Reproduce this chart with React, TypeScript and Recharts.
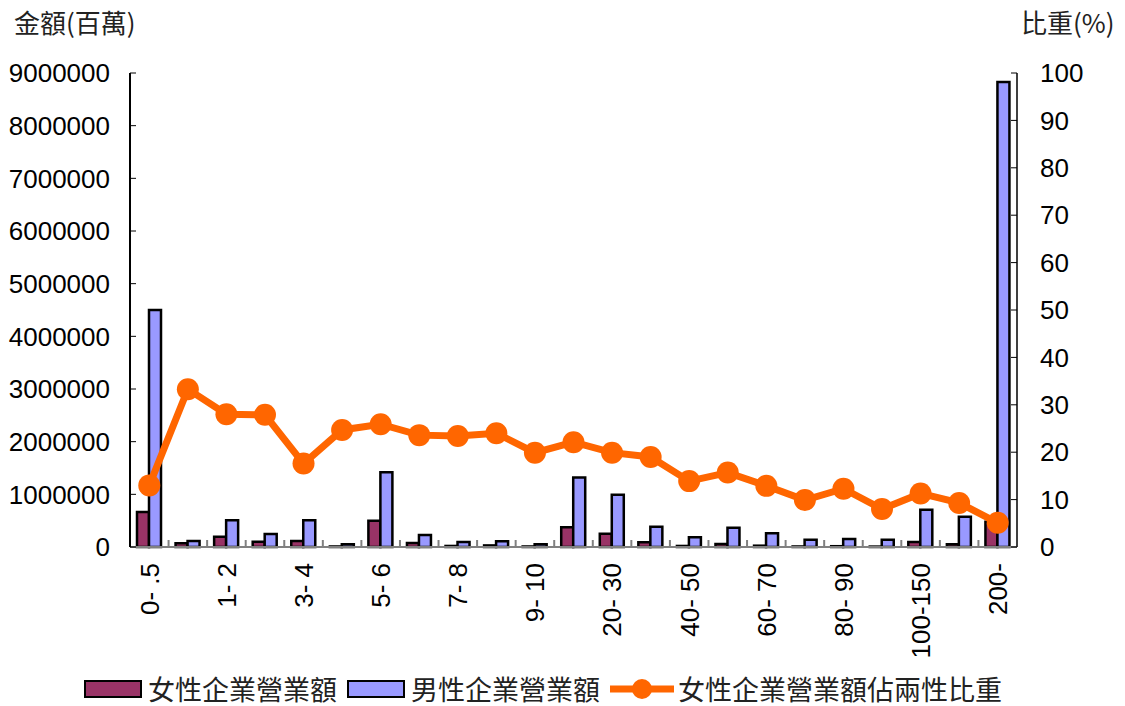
import { Bar, ComposedChart, Line, XAxis, YAxis } from "recharts";

const categories = [
  "0- .5", ".5- 1", "1- 2", "2- 3", "3- 4", "4- 5", "5- 6", "6- 7", "7- 8", "8- 9",
  "9- 10", "10- 20", "20- 30", "30- 40", "40- 50", "50- 60", "60- 70", "70- 80",
  "80- 90", "90- 100", "100-150", "150-200", "200-",
];

const femaleRevenue = [
  665000, 70000, 196000, 100000, 114000, 10000, 500000, 76000, 20000, 30000,
  10000, 374000, 253000, 89000, 20000, 55000, 25000, 10000, 15000, 8000,
  95000, 50000, 480000,
];

const maleRevenue = [
  4500000, 114000, 507000, 247000, 507000, 50000, 1420000, 228000, 95000, 108000,
  50000, 1320000, 993000, 385000, 184000, 367000, 260000, 139000, 152000, 139000,
  708000, 575000, 8830000,
];

const femaleShare = [
  13, 33.3, 28, 27.9, 17.6, 24.7, 25.9, 23.6, 23.4, 24, 19.9, 22.1, 19.9, 19,
  13.9, 15.7, 12.9, 9.9, 12.3, 8, 11.3, 9.3, 5.1,
];

const leftTicks = [0, 1000000, 2000000, 3000000, 4000000, 5000000, 6000000, 7000000, 8000000, 9000000];
const rightTicks = [0, 10, 20, 30, 40, 50, 60, 70, 80, 90, 100];

const data = categories.map((name, i) => ({
  name,
  female: femaleRevenue[i],
  male: maleRevenue[i],
  share: femaleShare[i],
}));

const numFont = "'Liberation Sans', Arial, sans-serif";
const cjkFont = "'Noto Sans CJK TC', 'Noto Sans CJK SC', sans-serif";

function CategoryTick(props: any) {
  const { x, y, payload, index } = props;
  const half = payload?.offset ?? 19.3;
  return (
    <g>
      {index > 0 && (
        <line x1={x - half} x2={x - half} y1={y - 8} y2={y - 15} stroke="#808080" strokeWidth={2} />
      )}
      {index % 2 === 0 && (
        <text
          transform={`translate(${x}, ${y + 8}) rotate(-90)`}
          textAnchor="end"
          dy="0.36em"
          fontFamily={numFont}
          fontSize={26}
          fill="#000"
        >
          {payload.value}
        </text>
      )}
    </g>
  );
}

function ChartLegend() {
  const item = { display: "flex", alignItems: "center" } as const;
  const label = { fontFamily: cjkFont, fontSize: 27, color: "#222", marginLeft: 6, lineHeight: "30px" };
  return (
    <div
      style={{
        position: "absolute",
        left: 84,
        top: 674,
        display: "flex",
        alignItems: "center",
        gap: 10,
      }}
    >
      <div style={item}>
        <div style={{ width: 54, height: 14, background: "#993366", border: "2px solid #000" }} />
        <span style={label}>女性企業營業額</span>
      </div>
      <div style={item}>
        <div style={{ width: 54, height: 14, background: "#9999FF", border: "2px solid #000" }} />
        <span style={label}>男性企業營業額</span>
      </div>
      <div style={item}>
        <svg width={64} height={24}>
          <line x1={0} x2={64} y1={12} y2={12} stroke="#FF6600" strokeWidth={7} />
          <circle cx={32} cy={12} r={10} fill="#FF6600" />
        </svg>
        <span style={{ ...label, marginLeft: 4 }}>女性企業營業額佔兩性比重</span>
      </div>
    </div>
  );
}

export default function App() {
  return (
    <div style={{ position: "absolute", left: 0, top: 0, width: 1125, height: 706, background: "#fff" }}>
      <div style={{ position: "absolute", left: 14, top: 3, fontFamily: cjkFont, fontSize: 26, color: "#222" }}>
        金額(百萬)
      </div>
      <div style={{ position: "absolute", left: 1021, top: 3, fontFamily: cjkFont, fontSize: 26, color: "#222" }}>
        比重(%)
      </div>
      <ComposedChart
        width={1125}
        height={706}
        data={data}
        margin={{ top: 73, right: 0, bottom: 0, left: 0 }}
        barGap={0}
      >
        <XAxis
          dataKey="name"
          height={159}
          interval={0}
          tickLine={false}
          axisLine={{ stroke: "#808080", strokeWidth: 2 }}
          tick={<CategoryTick />}
        />
        <XAxis
          xAxisId="top"
          dataKey="name"
          orientation="top"
          height={0}
          tick={false}
          tickLine={false}
          axisLine={{ stroke: "#808080", strokeWidth: 2 }}
        />
        <YAxis
          yAxisId="left"
          width={130}
          domain={[0, 9000000]}
          ticks={leftTicks}
          interval={0}
          tickSize={-6}
          tickMargin={26}
          axisLine={{ stroke: "#000", strokeWidth: 2 }}
          tickLine={{ stroke: "#000" }}
          tick={{ fontFamily: numFont, fontSize: 26, fill: "#000" }}
        />
        <YAxis
          yAxisId="right"
          orientation="right"
          width={108}
          domain={[0, 100]}
          ticks={rightTicks}
          interval={0}
          tickSize={-6}
          tickMargin={29}
          axisLine={{ stroke: "#404040", strokeWidth: 2 }}
          tickLine={{ stroke: "#000" }}
          tick={{ fontFamily: numFont, fontSize: 26, fill: "#000", textAnchor: "start" }}
        />
        <Bar
          yAxisId="left"
          dataKey="female"
          fill="#993366"
          stroke="#000"
          strokeWidth={2.5}
          barSize={12}
          isAnimationActive={false}
        />
        <Bar
          yAxisId="left"
          dataKey="male"
          fill="#9999FF"
          stroke="#000"
          strokeWidth={2.5}
          barSize={12}
          isAnimationActive={false}
        />
        <Line
          yAxisId="right"
          dataKey="share"
          stroke="#FF6600"
          strokeWidth={7}
          dot={{ r: 11, fill: "#FF6600", stroke: "none" }}
          activeDot={false}
          isAnimationActive={false}
        />
      </ComposedChart>
      <ChartLegend />
    </div>
  );
}
